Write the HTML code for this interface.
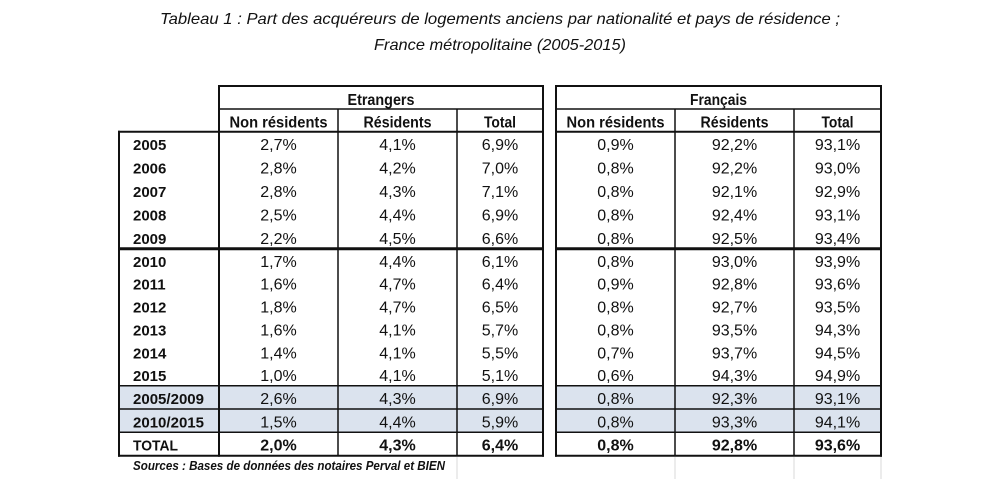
<!DOCTYPE html>
<html>
<head>
<meta charset="utf-8">
<style>
html,body{margin:0;padding:0;background:#fff;}
svg{display:block;}
text{font-family:"Liberation Sans",sans-serif;fill:#111;}
.v{font-size:16px;text-anchor:middle;}
.b{font-weight:bold;}
.y{font-size:15px;font-weight:bold;}
.h{font-size:16px;font-weight:bold;text-anchor:middle;}
.t{font-size:16px;font-style:italic;text-anchor:middle;}
</style>
</head>
<body>
<svg width="1000" height="489" viewBox="0 0 1000 489" xmlns="http://www.w3.org/2000/svg">
<rect width="1000" height="489" fill="#fff"/>
<!-- Title -->
<text class="t" x="500" y="24" textLength="680" lengthAdjust="spacingAndGlyphs">Tableau 1 : Part des acquéreurs de logements anciens par nationalité et pays de résidence ;</text>
<text class="t" x="500" y="50" textLength="252" lengthAdjust="spacingAndGlyphs">France métropolitaine (2005-2015)</text>

<!-- fills -->
<rect x="119" y="385.7" width="424" height="46.6" fill="#dbe3ee"/>
<rect x="556" y="385.7" width="325" height="46.6" fill="#dbe3ee"/>

<!-- faint grid below -->
<g stroke="#d8d8d8" stroke-width="1">
<line x1="457" y1="457" x2="457" y2="479"/>
<line x1="675" y1="457" x2="675" y2="479"/>
<line x1="794" y1="457" x2="794" y2="479"/>
<line x1="881" y1="457" x2="881" y2="479"/>
</g>

<!-- lines -->
<g stroke="#111" fill="none">
<!-- Etrangers -->
<line x1="218" y1="86" x2="544" y2="86" stroke-width="2"/>
<line x1="219" y1="109" x2="543" y2="109" stroke-width="1.5"/>
<line x1="118" y1="131.7" x2="543" y2="131.7" stroke-width="2"/>
<line x1="219" y1="85" x2="219" y2="456.7" stroke-width="2"/>
<line x1="543" y1="85" x2="543" y2="456.7" stroke-width="2"/>
<line x1="119" y1="130.7" x2="119" y2="456.7" stroke-width="2"/>
<line x1="338" y1="109" x2="338" y2="455.7" stroke-width="1.5"/>
<line x1="457" y1="109" x2="457" y2="455.7" stroke-width="1.5"/>
<line x1="119" y1="248.7" x2="543" y2="248.7" stroke-width="3"/>
<line x1="119" y1="385.7" x2="543" y2="385.7" stroke-width="1.5"/>
<line x1="119" y1="409" x2="543" y2="409" stroke-width="1.5"/>
<line x1="119" y1="432.3" x2="543" y2="432.3" stroke-width="1.5"/>
<line x1="118" y1="455.7" x2="544" y2="455.7" stroke-width="2"/>
<!-- Français -->
<line x1="555" y1="86" x2="882" y2="86" stroke-width="2"/>
<line x1="556" y1="109" x2="881" y2="109" stroke-width="1.5"/>
<line x1="556" y1="131.7" x2="881" y2="131.7" stroke-width="2"/>
<line x1="556" y1="85" x2="556" y2="456.7" stroke-width="2"/>
<line x1="881" y1="85" x2="881" y2="456.7" stroke-width="2"/>
<line x1="675" y1="109" x2="675" y2="455.7" stroke-width="1.5"/>
<line x1="794" y1="109" x2="794" y2="455.7" stroke-width="1.5"/>
<line x1="556" y1="248.7" x2="881" y2="248.7" stroke-width="3"/>
<line x1="556" y1="385.7" x2="881" y2="385.7" stroke-width="1.5"/>
<line x1="556" y1="409" x2="881" y2="409" stroke-width="1.5"/>
<line x1="556" y1="432.3" x2="881" y2="432.3" stroke-width="1.5"/>
<line x1="555" y1="455.7" x2="882" y2="455.7" stroke-width="2"/>
</g>

<!-- Headers -->
<text class="h" x="381" y="105" textLength="67" lengthAdjust="spacingAndGlyphs">Etrangers</text>
<text class="h" x="718.5" y="105" textLength="57" lengthAdjust="spacingAndGlyphs">Français</text>
<text class="h" x="278.5" y="127.3" textLength="98" lengthAdjust="spacingAndGlyphs">Non résidents</text>
<text class="h" x="397.5" y="127.3" textLength="68" lengthAdjust="spacingAndGlyphs">Résidents</text>
<text class="h" x="500" y="127.3" textLength="32" lengthAdjust="spacingAndGlyphs">Total</text>
<text class="h" x="615.5" y="127.3" textLength="98" lengthAdjust="spacingAndGlyphs">Non résidents</text>
<text class="h" x="734.5" y="127.3" textLength="68" lengthAdjust="spacingAndGlyphs">Résidents</text>
<text class="h" x="837.5" y="127.3" textLength="32" lengthAdjust="spacingAndGlyphs">Total</text>

<!-- Year labels -->
<g class="y">
<text x="133" y="150.2" class="y">2005</text>
<text x="133" y="173.6" class="y">2006</text>
<text x="133" y="197.0" class="y">2007</text>
<text x="133" y="220.4" class="y">2008</text>
<text x="133" y="243.8" class="y">2009</text>
<text x="133" y="266.9" class="y">2010</text>
<text x="133" y="289.7" class="y">2011</text>
<text x="133" y="312.6" class="y">2012</text>
<text x="133" y="335.4" class="y">2013</text>
<text x="133" y="358.3" class="y">2014</text>
<text x="133" y="381.1" class="y">2015</text>
<text x="133" y="404.2" class="y" textLength="71" lengthAdjust="spacingAndGlyphs">2005/2009</text>
<text x="133" y="427.5" class="y" textLength="71" lengthAdjust="spacingAndGlyphs">2010/2015</text>
<text x="133" y="450.6" class="y" textLength="45" lengthAdjust="spacingAndGlyphs">TOTAL</text>
</g>

<!-- Values -->
<g>
<!-- 2005 -->
<text class="v" x="278.5" y="150.2">2,7%</text><text class="v" x="397.5" y="150.2">4,1%</text><text class="v" x="500" y="150.2">6,9%</text>
<text class="v" x="615.5" y="150.2">0,9%</text><text class="v" x="734.5" y="150.2">92,2%</text><text class="v" x="837.5" y="150.2">93,1%</text>
<!-- 2006 -->
<text class="v" x="278.5" y="173.6">2,8%</text><text class="v" x="397.5" y="173.6">4,2%</text><text class="v" x="500" y="173.6">7,0%</text>
<text class="v" x="615.5" y="173.6">0,8%</text><text class="v" x="734.5" y="173.6">92,2%</text><text class="v" x="837.5" y="173.6">93,0%</text>
<!-- 2007 -->
<text class="v" x="278.5" y="197.0">2,8%</text><text class="v" x="397.5" y="197.0">4,3%</text><text class="v" x="500" y="197.0">7,1%</text>
<text class="v" x="615.5" y="197.0">0,8%</text><text class="v" x="734.5" y="197.0">92,1%</text><text class="v" x="837.5" y="197.0">92,9%</text>
<!-- 2008 -->
<text class="v" x="278.5" y="220.4">2,5%</text><text class="v" x="397.5" y="220.4">4,4%</text><text class="v" x="500" y="220.4">6,9%</text>
<text class="v" x="615.5" y="220.4">0,8%</text><text class="v" x="734.5" y="220.4">92,4%</text><text class="v" x="837.5" y="220.4">93,1%</text>
<!-- 2009 -->
<text class="v" x="278.5" y="243.8">2,2%</text><text class="v" x="397.5" y="243.8">4,5%</text><text class="v" x="500" y="243.8">6,6%</text>
<text class="v" x="615.5" y="243.8">0,8%</text><text class="v" x="734.5" y="243.8">92,5%</text><text class="v" x="837.5" y="243.8">93,4%</text>
<!-- 2010 -->
<text class="v" x="278.5" y="266.9">1,7%</text><text class="v" x="397.5" y="266.9">4,4%</text><text class="v" x="500" y="266.9">6,1%</text>
<text class="v" x="615.5" y="266.9">0,8%</text><text class="v" x="734.5" y="266.9">93,0%</text><text class="v" x="837.5" y="266.9">93,9%</text>
<!-- 2011 -->
<text class="v" x="278.5" y="289.7">1,6%</text><text class="v" x="397.5" y="289.7">4,7%</text><text class="v" x="500" y="289.7">6,4%</text>
<text class="v" x="615.5" y="289.7">0,9%</text><text class="v" x="734.5" y="289.7">92,8%</text><text class="v" x="837.5" y="289.7">93,6%</text>
<!-- 2012 -->
<text class="v" x="278.5" y="312.6">1,8%</text><text class="v" x="397.5" y="312.6">4,7%</text><text class="v" x="500" y="312.6">6,5%</text>
<text class="v" x="615.5" y="312.6">0,8%</text><text class="v" x="734.5" y="312.6">92,7%</text><text class="v" x="837.5" y="312.6">93,5%</text>
<!-- 2013 -->
<text class="v" x="278.5" y="335.4">1,6%</text><text class="v" x="397.5" y="335.4">4,1%</text><text class="v" x="500" y="335.4">5,7%</text>
<text class="v" x="615.5" y="335.4">0,8%</text><text class="v" x="734.5" y="335.4">93,5%</text><text class="v" x="837.5" y="335.4">94,3%</text>
<!-- 2014 -->
<text class="v" x="278.5" y="358.3">1,4%</text><text class="v" x="397.5" y="358.3">4,1%</text><text class="v" x="500" y="358.3">5,5%</text>
<text class="v" x="615.5" y="358.3">0,7%</text><text class="v" x="734.5" y="358.3">93,7%</text><text class="v" x="837.5" y="358.3">94,5%</text>
<!-- 2015 -->
<text class="v" x="278.5" y="381.1">1,0%</text><text class="v" x="397.5" y="381.1">4,1%</text><text class="v" x="500" y="381.1">5,1%</text>
<text class="v" x="615.5" y="381.1">0,6%</text><text class="v" x="734.5" y="381.1">94,3%</text><text class="v" x="837.5" y="381.1">94,9%</text>
<!-- 2005/2009 -->
<text class="v" x="278.5" y="404.2">2,6%</text><text class="v" x="397.5" y="404.2">4,3%</text><text class="v" x="500" y="404.2">6,9%</text>
<text class="v" x="615.5" y="404.2">0,8%</text><text class="v" x="734.5" y="404.2">92,3%</text><text class="v" x="837.5" y="404.2">93,1%</text>
<!-- 2010/2015 -->
<text class="v" x="278.5" y="427.5">1,5%</text><text class="v" x="397.5" y="427.5">4,4%</text><text class="v" x="500" y="427.5">5,9%</text>
<text class="v" x="615.5" y="427.5">0,8%</text><text class="v" x="734.5" y="427.5">93,3%</text><text class="v" x="837.5" y="427.5">94,1%</text>
<!-- TOTAL -->
<text class="v b" x="278.5" y="450.6">2,0%</text><text class="v b" x="397.5" y="450.6">4,3%</text><text class="v b" x="500" y="450.6">6,4%</text>
<text class="v b" x="615.5" y="450.6">0,8%</text><text class="v b" x="734.5" y="450.6">92,8%</text><text class="v b" x="837.5" y="450.6">93,6%</text>
</g>

<!-- Source -->
<text x="133" y="470" style="font-size:12.5px;font-weight:bold;font-style:italic;" textLength="312" lengthAdjust="spacingAndGlyphs">Sources : Bases de données des notaires Perval et BIEN</text>
</svg>
</body>
</html>
